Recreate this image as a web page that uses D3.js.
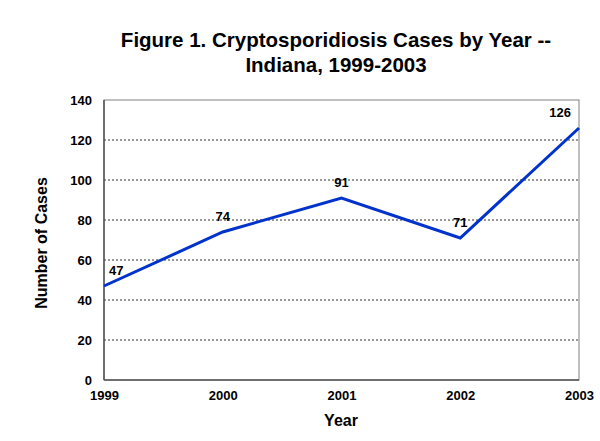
<!DOCTYPE html>
<html>
<head>
<meta charset="utf-8">
<script src="https://cdn.jsdelivr.net/npm/d3@7"></script>
<style>
body { margin: 0; background: #fff; }
text { font-family: Arial, "Liberation Sans", sans-serif; font-weight: bold; }
</style>
</head>
<body>
<script>
var years = ["1999", "2000", "2001", "2002", "2003"];
var cases = [47, 74, 91, 71, 126];
var yTicks = [0, 20, 40, 60, 80, 100, 120, 140];
var titleLines = ["Figure 1. Cryptosporidiosis Cases by Year --", "Indiana, 1999-2003"];

var w = 600, h = 441;
var plotLeft = 104, plotRight = 579, plotTop = 100, plotBottom = 380;

var svg = d3.select("body").append("svg")
	.attr("width", w)
	.attr("height", h);

var xScale = d3.scalePoint()
	.domain(years)
	.range([plotLeft, plotRight]);

var yScale = d3.scaleLinear()
	.domain([0, 140])
	.range([plotBottom, plotTop]);

// gridlines
svg.selectAll(".grid")
	.data(yTicks.filter(d => d > 0 && d < 140))
	.enter()
	.append("line")
	.attr("x1", plotLeft)
	.attr("x2", plotRight)
	.attr("y1", d => yScale(d))
	.attr("y2", d => yScale(d))
	.attr("stroke", "#333")
	.attr("stroke-width", 1)
	.attr("stroke-dasharray", "2,2");

// frame
svg.append("rect")
	.attr("x", plotLeft)
	.attr("y", plotTop)
	.attr("width", plotRight - plotLeft)
	.attr("height", plotBottom - plotTop)
	.attr("fill", "none")
	.attr("stroke", "#808080")
	.attr("stroke-width", 1);

svg.append("line")
	.attr("x1", plotLeft).attr("x2", plotLeft)
	.attr("y1", plotTop).attr("y2", plotBottom)
	.attr("stroke", "#555").attr("stroke-width", 1.5);
svg.append("line")
	.attr("x1", plotLeft).attr("x2", plotRight)
	.attr("y1", plotBottom).attr("y2", plotBottom)
	.attr("stroke", "#555").attr("stroke-width", 1.5);

// y axis labels
var yAxis = d3.axisLeft(yScale).tickValues(yTicks).tickSize(0).tickPadding(12);
var gy = svg.append("g")
	.attr("transform", `translate(${plotLeft}, 0)`)
	.call(yAxis);
gy.select(".domain").remove();
gy.selectAll("text")
	.attr("font-size", "13px")
	.attr("fill", "#000")
	.attr("font-family", "Arial, 'Liberation Sans', sans-serif")
	.attr("font-weight", "bold");

// x axis labels
var xAxis = d3.axisBottom(xScale).tickSize(0).tickPadding(11);
var gx = svg.append("g")
	.attr("transform", `translate(0, ${plotBottom})`)
	.call(xAxis);
gx.select(".domain").remove();
gx.selectAll("text")
	.attr("font-size", "13px")
	.attr("fill", "#000")
	.attr("font-family", "Arial, 'Liberation Sans', sans-serif")
	.attr("font-weight", "bold");

// line
var line = d3.line()
	.x((d, i) => xScale(years[i]))
	.y(d => yScale(d));

svg.append("path")
	.datum(cases)
	.attr("d", line)
	.attr("fill", "none")
	.attr("stroke", "#0033cc")
	.attr("stroke-width", 3);

// data labels
svg.selectAll(".val")
	.data(cases)
	.enter()
	.append("text")
	.attr("class", "val")
	.attr("x", (d, i) => xScale(years[i]))
	.attr("y", d => yScale(d) - 11)
	.attr("text-anchor", (d, i) => i == 0 ? "start" : (i == years.length - 1 ? "end" : "middle"))
	.attr("dx", (d, i) => i == 0 ? 5 : (i == years.length - 1 ? -8 : 0))
	.attr("font-size", "13px")
	.text(d => d);

// titles
svg.selectAll(".title")
	.data(titleLines)
	.enter()
	.append("text")
	.attr("x", 336)
	.attr("y", (d, i) => 47 + i * 25)
	.attr("text-anchor", "middle")
	.attr("font-size", "20.5px")
	.text(d => d);

svg.append("text")
	.attr("x", 341)
	.attr("y", 426)
	.attr("text-anchor", "middle")
	.attr("font-size", "16px")
	.text("Year");

svg.append("text")
	.attr("transform", "translate(47, 243) rotate(-90)")
	.attr("text-anchor", "middle")
	.attr("font-size", "16px")
	.text("Number of Cases");
</script>
</body>
</html>
